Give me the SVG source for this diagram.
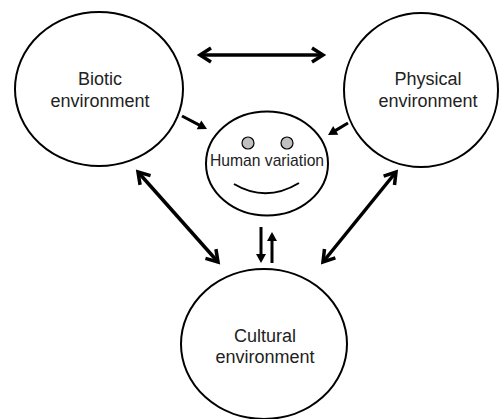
<svg xmlns="http://www.w3.org/2000/svg" width="500" height="419" viewBox="0 0 500 419">
<style>
.node{fill:#fff;stroke:#000;stroke-width:2}
.lbl{font-family:"Liberation Sans",Arial,sans-serif;font-size:18px;fill:#222;text-anchor:middle}
.big{stroke:#000;stroke-width:3.5;fill:none}
.small{stroke:#000;stroke-width:3;fill:none}
</style>
<defs>
<marker id="chev" markerUnits="userSpaceOnUse" viewBox="-14 -10 18 20" markerWidth="18" markerHeight="20" refX="0" refY="0" orient="auto-start-reverse">
<path d="M-11,-7 L0,0 L-11,7" fill="none" stroke="#000" stroke-width="3.5"/>
</marker>
<marker id="tri" markerUnits="userSpaceOnUse" viewBox="-2 -6 12 12" markerWidth="12" markerHeight="12" refX="0" refY="0" orient="auto">
<path d="M-1,-5 L8,0 L-1,5 z" fill="#000"/>
</marker>
</defs>
<g id="biotic">
<ellipse class="node" cx="99" cy="89" rx="84" ry="77"/>
<text class="lbl" x="100" y="85">Biotic</text>
<text class="lbl" x="100" y="107">environment</text>
</g>
<g id="physical">
<ellipse class="node" cx="421" cy="90" rx="77" ry="77"/>
<text class="lbl" x="428" y="85">Physical</text>
<text class="lbl" x="428" y="107">environment</text>
</g>
<g id="human">
<ellipse class="node" cx="267" cy="163.5" rx="61" ry="52"/>
<circle cx="248" cy="143" r="6" fill="#c0c0c0" stroke="#000" stroke-width="1.2"/>
<circle cx="287" cy="143" r="6" fill="#c0c0c0" stroke="#000" stroke-width="1.2"/>
<text x="267" y="166" style="font-family:'Liberation Sans',Arial,sans-serif;font-size:15.7px;fill:#222;text-anchor:middle">Human variation</text>
<path d="M234,184 Q266,203 299,183" fill="none" stroke="#000" stroke-width="2"/>
</g>
<g id="cultural">
<ellipse class="node" cx="264" cy="344" rx="83" ry="75"/>
<text class="lbl" x="265" y="342">Cultural</text>
<text class="lbl" x="265" y="363">environment</text>
</g>
<g id="connectors">
<line class="big" x1="200" y1="55" x2="323" y2="55" marker-start="url(#chev)" marker-end="url(#chev)"/>
<line class="big" x1="138" y1="172" x2="218" y2="262" marker-start="url(#chev)" marker-end="url(#chev)"/>
<line class="big" x1="396" y1="172" x2="323" y2="262" marker-start="url(#chev)" marker-end="url(#chev)"/>
<line class="small" x1="182" y1="116" x2="199.9" y2="125.3" marker-end="url(#tri)"/>
<line class="small" x1="348" y1="123" x2="334.9" y2="130.9" marker-end="url(#tri)"/>
<line class="small" x1="261" y1="227" x2="261" y2="255" marker-end="url(#tri)"/>
<line class="small" x1="272" y1="263" x2="272" y2="240" marker-end="url(#tri)"/>
</g>
</svg>
